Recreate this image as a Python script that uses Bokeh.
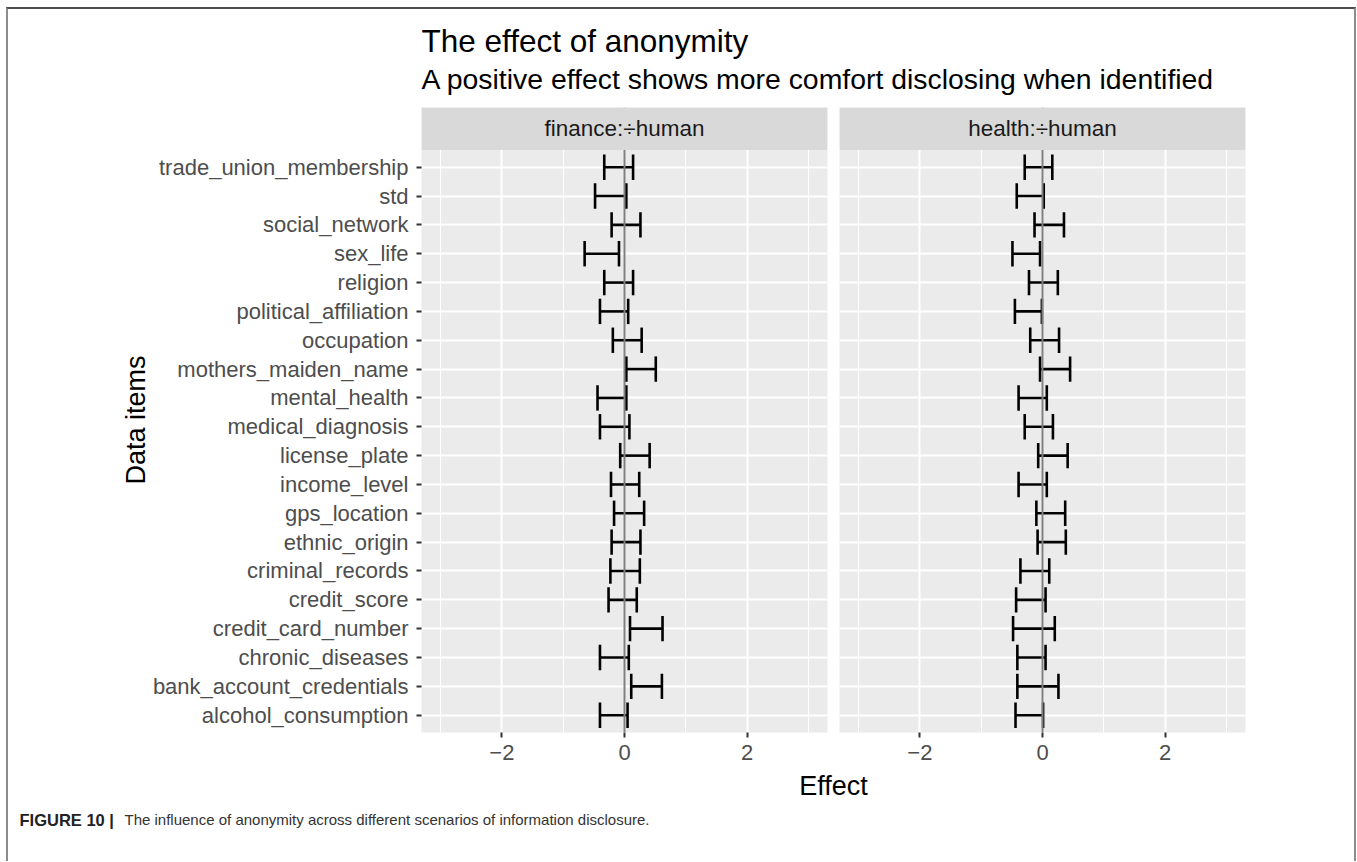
from bokeh.plotting import figure
from bokeh.models import Range1d, FixedTicker, Span, BoxAnnotation, Label, ColumnDataSource
from bokeh.layouts import column, row
from bokeh.embed import file_html
from bokeh.resources import INLINE

# ---------------- data (ggplot factor order: bottom -> top) ----------------
categories = [
    "alcohol_consumption", "bank_account_credentials", "chronic_diseases",
    "credit_card_number", "credit_score", "criminal_records", "ethnic_origin",
    "gps_location", "income_level", "license_plate", "medical_diagnosis",
    "mental_health", "mothers_maiden_name", "occupation", "political_affiliation",
    "religion", "sex_life", "social_network", "std", "trade_union_membership",
]
finance_lower = [-0.40, 0.11, -0.40, 0.09, -0.26, -0.23, -0.21, -0.17, -0.22, -0.07,
                 -0.40, -0.44, 0.03, -0.19, -0.40, -0.33, -0.65, -0.21, -0.48, -0.33]
finance_upper = [0.05, 0.61, 0.07, 0.62, 0.20, 0.25, 0.26, 0.32, 0.24, 0.41,
                 0.08, 0.03, 0.51, 0.28, 0.06, 0.14, -0.09, 0.26, 0.03, 0.14]
health_lower = [-0.44, -0.41, -0.41, -0.48, -0.43, -0.36, -0.08, -0.10, -0.39, -0.07,
                -0.29, -0.39, -0.04, -0.20, -0.45, -0.22, -0.49, -0.13, -0.42, -0.29]
health_upper = [0.01, 0.26, 0.05, 0.20, 0.05, 0.11, 0.38, 0.37, 0.07, 0.41,
                0.17, 0.07, 0.45, 0.27, -0.01, 0.25, -0.04, 0.35, 0.02, 0.16]
panel_labels = ["finance:÷human", "health:÷human"]
x_ticks = [-2, 0, 2]
x_tick_labels = ["−2", "0", "2"]
x_minor_ticks = [-3, -1, 1, 3]
title_text = "The effect of anonymity"
subtitle_text = "A positive effect shows more comfort disclosing when identified"
x_title = "Effect"
y_title = "Data items"
caption_bold = "FIGURE 10 |"
caption_text = "The influence of anonymity across different scenarios of information disclosure."

FONT = "Liberation Sans"
n = len(categories)
ys = list(range(1, n + 1))
X_RANGE = (-3.31, 3.31)
Y_LO = 0.4
PANEL_TOP = n + 0.6
Y_HI = PANEL_TOP + 1.47
CAP = 0.44
PANEL_H = 670


def make_panel(lower, upper, label, show_y, width, mb_left, mb_right):
    p = figure(width=width, height=PANEL_H,
               x_range=Range1d(*X_RANGE), y_range=Range1d(Y_LO, Y_HI),
               toolbar_location=None, output_backend="svg",
               min_border_left=mb_left, min_border_right=mb_right,
               min_border_top=7, min_border_bottom=38,
               y_axis_location="left" if show_y else None)
    p.background_fill_color = "#EBEBEB"
    p.border_fill_color = "white"
    p.outline_line_color = None

    xt = FixedTicker(ticks=x_ticks, minor_ticks=x_minor_ticks)
    yt = FixedTicker(ticks=ys)
    p.xaxis.ticker = xt
    p.xgrid.ticker = xt
    p.ygrid.ticker = yt
    p.xgrid.grid_line_color = "white"
    p.xgrid.grid_line_width = 2
    p.xgrid.minor_grid_line_color = "white"
    p.xgrid.minor_grid_line_width = 1
    p.ygrid.grid_line_color = "white"
    p.ygrid.grid_line_width = 2

    p.xaxis.major_label_overrides = dict(zip(x_ticks, x_tick_labels))
    p.xaxis.axis_line_color = None
    p.xaxis.major_tick_line_color = "#333333"
    p.xaxis.major_tick_line_width = 2
    p.xaxis.major_tick_out = 5
    p.xaxis.major_tick_in = 0
    p.xaxis.minor_tick_line_color = None
    p.xaxis.major_label_text_font = FONT
    p.xaxis.major_label_text_font_size = "22px"
    p.xaxis.major_label_text_color = "#4D4D4D"
    p.xaxis.major_label_standoff = 7

    if show_y:
        p.yaxis.ticker = yt
        p.yaxis.major_label_overrides = {y: c for y, c in zip(ys, categories)}
        p.yaxis.axis_line_color = None
        p.yaxis.major_tick_line_color = "#333333"
        p.yaxis.major_tick_line_width = 2
        p.yaxis.major_tick_out = 5
        p.yaxis.major_tick_in = 0
        p.yaxis.minor_tick_line_color = None
        p.yaxis.major_label_text_font = FONT
        p.yaxis.major_label_text_font_size = "22px"
        p.yaxis.major_label_text_color = "#4D4D4D"
        p.yaxis.major_label_standoff = 8
        p.yaxis.axis_label = y_title
        p.yaxis.axis_label_text_font = FONT
        p.yaxis.axis_label_text_font_size = "27px"
        p.yaxis.axis_label_text_font_style = "normal"
        p.yaxis.axis_label_text_color = "black"
        p.yaxis.axis_label_standoff = -1

    src = ColumnDataSource(dict(
        y=ys, lo=lower, hi=upper,
        y0=[y - CAP for y in ys], y1=[y + CAP for y in ys]))
    kw = dict(source=src, line_color="black", line_width=2.6)
    p.segment(x0="lo", x1="hi", y0="y", y1="y", **kw)
    p.segment(x0="lo", x1="lo", y0="y0", y1="y1", **kw)
    p.segment(x0="hi", x1="hi", y0="y0", y1="y1", **kw)

    p.add_layout(Span(location=0, dimension="height", line_color="#7F7F7F", line_width=2))
    p.add_layout(BoxAnnotation(bottom=PANEL_TOP, fill_color="#D9D9D9", fill_alpha=1.0,
                               line_color=None))
    p.add_layout(Label(x=(X_RANGE[0] + X_RANGE[1]) / 2, y=(PANEL_TOP + Y_HI) / 2,
                       text=label, text_align="center", text_baseline="middle",
                       text_font=FONT, text_font_size="22.5px", text_color="#1A1A1A"))
    return p


left = make_panel(finance_lower, finance_upper, panel_labels[0], True, 825, 413, 6)
right = make_panel(health_lower, health_upper, panel_labels[1], False, 521, 6, 109)


def text_canvas(w, h):
    f = figure(width=w, height=h, x_range=Range1d(0, 1), y_range=Range1d(0, 1),
               toolbar_location=None, output_backend="svg", min_border=0,
               x_axis_location=None, y_axis_location=None)
    f.grid.visible = False
    f.outline_line_color = None
    f.background_fill_color = "white"
    f.border_fill_color = "white"
    return f


TOP_H = 91
top = text_canvas(1346, TOP_H)
top.add_layout(Label(x=413, y=TOP_H - 31, x_units="screen", y_units="screen", text=title_text,
                     text_font=FONT, text_font_size="31.5px", text_color="black",
                     text_baseline="middle"))
top.add_layout(Label(x=413, y=TOP_H - 69, x_units="screen", y_units="screen", text=subtitle_text,
                     text_font=FONT, text_font_size="28.4px", text_color="black",
                     text_baseline="middle"))

BOT_H = 91
bottom = text_canvas(1346, BOT_H)
bottom.add_layout(Label(x=825, y=BOT_H - 15, x_units="screen", y_units="screen", text=x_title,
                        text_font=FONT, text_font_size="27px", text_color="black",
                        text_align="center", text_baseline="middle"))
bottom.add_layout(Label(x=11, y=BOT_H - 49, x_units="screen", y_units="screen", text=caption_bold,
                        text_font=FONT, text_font_size="16.5px", text_font_style="bold",
                        text_color="#222222", text_baseline="middle"))
bottom.add_layout(Label(x=116, y=BOT_H - 49, x_units="screen", y_units="screen", text=caption_text,
                        text_font=FONT, text_font_size="15px", text_color="#333333",
                        text_baseline="middle"))

layout = column(top, row(left, right), bottom,
                styles={"margin-left": "6px", "margin-top": "7px",
                        "border-top": "2px solid #4d4d4d",
                        "border-left": "2px solid #8c8c8c",
                        "border-right": "2px solid #8c8c8c"})

with open("out.html", "w") as fh:
    fh.write(file_html(layout, INLINE))
